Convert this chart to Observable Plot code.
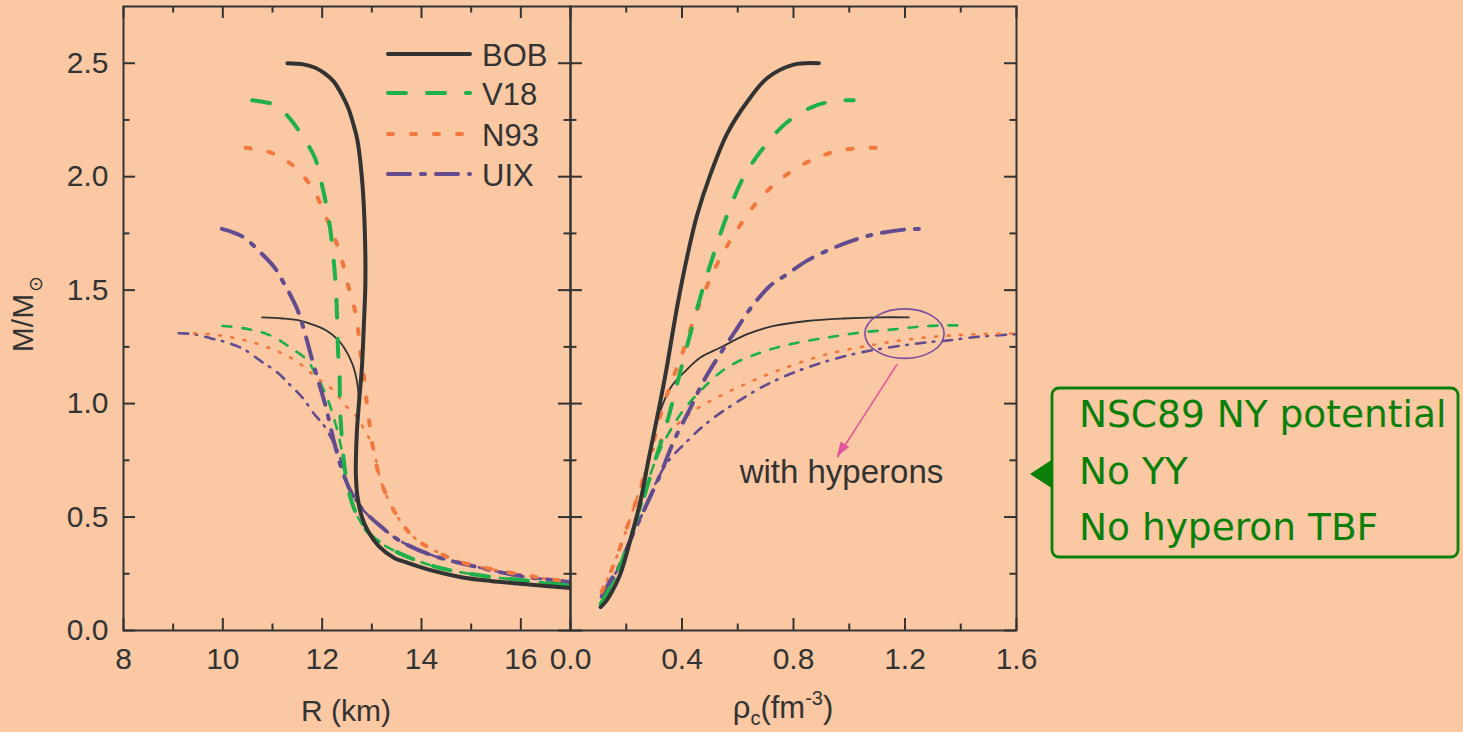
<!DOCTYPE html>
<html><head><meta charset="utf-8">
<script src="https://cdn.jsdelivr.net/npm/d3@7"></script>
<script src="https://cdn.jsdelivr.net/npm/@observablehq/plot@0.6"></script>
<style>
html,body{margin:0;padding:0;background:#FAC8A2;}
#wrap{position:relative;width:1463px;height:732px;overflow:hidden;}
#left{position:absolute;top:0;left:0;width:575px;height:732px;}
#right{position:absolute;top:0;left:565px;width:898px;height:732px;}
</style></head><body>
<div id="wrap"><div id="left"></div><div id="right"></div></div>
<script>
// ---------- DATA ----------
const seriesNames = ["BOB", "V18", "N93", "UIX"];

// Left panel: [R (km), M/Msun], nucleonic (thick)
const bobMR = [[11.30,2.50],[11.62,2.495],[11.86,2.48],[12.05,2.455],[12.23,2.42],[12.40,2.36],[12.53,2.30],[12.63,2.23],[12.71,2.16],[12.81,1.97],[12.86,1.75],[12.87,1.53],[12.84,1.35],[12.80,1.16],[12.74,1.0],[12.70,0.88],[12.68,0.76],[12.68,0.68],[12.71,0.59],[12.80,0.50],[12.92,0.44],[13.15,0.37],[13.45,0.32],[13.7,0.30],[14.2,0.265],[14.8,0.235],[15.4,0.218],[15.94,0.207],[16.5,0.196],[17.0,0.187]];
const v18MR = [[10.59,2.337],[10.8,2.33],[11.0,2.32],[11.2,2.29],[11.39,2.245],[11.63,2.17],[11.86,2.08],[12.01,1.95],[12.12,1.83],[12.19,1.72],[12.27,1.53],[12.30,1.38],[12.32,1.23],[12.35,1.13],[12.36,0.98],[12.40,0.84],[12.47,0.69],[12.59,0.57],[12.77,0.48],[13.03,0.41],[13.56,0.34],[14.3,0.28],[15.2,0.242],[16.1,0.22],[17.0,0.198]];
const n93MR = [[10.46,2.127],[10.7,2.12],[10.98,2.105],[11.2,2.08],[11.46,2.04],[11.83,1.94],[12.06,1.83],[12.25,1.73],[12.39,1.64],[12.51,1.53],[12.64,1.43],[12.72,1.33],[12.77,1.225],[12.84,1.12],[12.89,1.02],[12.95,0.917],[13.02,0.81],[13.18,0.66],[13.48,0.515],[13.85,0.41],[14.37,0.34],[14.82,0.30],[15.56,0.264],[16.32,0.235],[17.0,0.213]];
const uixMR = [[9.98,1.77],[10.2,1.755],[10.44,1.73],[10.74,1.67],[11.04,1.60],[11.23,1.53],[11.49,1.42],[11.64,1.32],[11.79,1.20],[11.94,1.087],[12.08,0.98],[12.23,0.84],[12.38,0.72],[12.56,0.62],[12.79,0.54],[13.12,0.47],[13.56,0.396],[14.23,0.33],[15.12,0.28],[15.94,0.242],[17.0,0.213]];

// Left panel: with hyperons (thin)
const bobMRhyp = [[10.79,1.38],[11.2,1.375],[11.57,1.365],[11.85,1.345],[12.10,1.32],[12.30,1.285],[12.44,1.247],[12.61,1.174],[12.71,1.086],[12.74,1.0],[12.70,0.88],[12.68,0.76],[12.68,0.68],[12.71,0.59],[12.80,0.50],[12.92,0.44],[13.15,0.37],[13.45,0.32],[13.7,0.30],[14.2,0.265],[14.8,0.235],[15.4,0.218],[15.94,0.207],[16.5,0.196],[17.0,0.187]];
const v18MRhyp = [[9.99,1.342],[10.52,1.328],[10.96,1.30],[11.36,1.247],[11.70,1.19],[11.90,1.115],[12.04,1.056],[12.17,0.983],[12.27,0.91],[12.37,0.82],[12.44,0.72],[12.52,0.63],[12.62,0.55],[12.77,0.48],[13.03,0.41],[13.56,0.34],[14.3,0.28],[15.2,0.242],[16.1,0.22],[17.0,0.198]];
const n93MRhyp = [[9.42,1.31],[9.72,1.306],[9.95,1.30],[10.22,1.29],[10.49,1.276],[10.72,1.262],[10.99,1.24],[11.23,1.218],[11.50,1.184],[11.73,1.144],[11.97,1.10],[12.24,1.056],[12.44,0.998],[12.68,0.946],[12.84,0.888],[13.02,0.81],[13.18,0.66],[13.48,0.515],[13.85,0.41],[14.37,0.34],[14.82,0.30],[15.56,0.264],[16.32,0.235],[17.0,0.213]];
const uixMRhyp = [[9.11,1.31],[9.42,1.306],[9.75,1.288],[10.09,1.269],[10.42,1.24],[10.76,1.188],[11.10,1.137],[11.37,1.078],[11.60,1.027],[11.84,0.954],[12.04,0.902],[12.21,0.836],[12.34,0.778],[12.42,0.71],[12.56,0.62],[12.79,0.54],[13.12,0.47],[13.56,0.396],[14.23,0.33],[15.12,0.28],[15.94,0.242],[17.0,0.213]];

// Right panel: [rho_c (fm^-3), M/Msun], nucleonic (thick)
const bobRho = [[0.108,0.103],[0.125,0.125],[0.1435,0.16],[0.179,0.25],[0.215,0.40],[0.251,0.57],[0.281,0.76],[0.311,0.94],[0.341,1.13],[0.362,1.28],[0.383,1.43],[0.419,1.65],[0.454,1.83],[0.502,2.01],[0.562,2.19],[0.634,2.33],[0.706,2.435],[0.801,2.494],[0.891,2.50]];
const v18Rho = [[0.108,0.117],[0.155,0.22],[0.203,0.367],[0.251,0.54],[0.299,0.73],[0.347,0.92],[0.383,1.09],[0.424,1.28],[0.466,1.47],[0.514,1.66],[0.562,1.83],[0.622,2.0],[0.694,2.13],[0.777,2.24],[0.873,2.31],[0.957,2.335],[1.016,2.337]];
const n93Rho = [[0.112,0.17],[0.13,0.22],[0.155,0.29],[0.203,0.455],[0.251,0.63],[0.299,0.836],[0.323,0.95],[0.359,1.085],[0.395,1.20],[0.454,1.41],[0.520,1.60],[0.574,1.72],[0.622,1.81],[0.682,1.907],[0.765,2.0],[0.849,2.064],[0.933,2.105],[1.016,2.124],[1.112,2.127]];
const uixRho = [[0.112,0.15],[0.1435,0.22],[0.167,0.264],[0.215,0.40],[0.275,0.56],[0.323,0.69],[0.371,0.836],[0.430,0.98],[0.478,1.10],[0.532,1.21],[0.586,1.31],[0.646,1.42],[0.717,1.52],[0.777,1.57],[0.849,1.63],[0.945,1.687],[1.04,1.73],[1.124,1.754],[1.208,1.768],[1.256,1.77]];

// Right panel: with hyperons (thin)
const bobRhoHyp = [[0.108,0.103],[0.125,0.125],[0.1435,0.16],[0.179,0.25],[0.215,0.40],[0.251,0.57],[0.281,0.76],[0.300,0.87],[0.320,0.96],[0.359,1.07],[0.413,1.144],[0.466,1.203],[0.538,1.247],[0.634,1.306],[0.729,1.342],[0.849,1.364],[0.98,1.375],[1.10,1.38],[1.214,1.38]];
const v18RhoHyp = [[0.108,0.117],[0.155,0.22],[0.203,0.367],[0.251,0.54],[0.290,0.70],[0.323,0.80],[0.395,0.954],[0.466,1.056],[0.562,1.159],[0.682,1.225],[0.801,1.265],[0.921,1.291],[1.04,1.313],[1.16,1.327],[1.28,1.342],[1.423,1.345]];
const n93RhoHyp = [[0.112,0.17],[0.13,0.22],[0.155,0.29],[0.203,0.455],[0.251,0.63],[0.299,0.80],[0.359,0.88],[0.442,0.968],[0.526,1.027],[0.634,1.09],[0.753,1.15],[0.921,1.218],[1.10,1.262],[1.22,1.284],[1.339,1.298],[1.459,1.306],[1.603,1.309]];
const uixRhoHyp = [[0.112,0.15],[0.1435,0.22],[0.167,0.264],[0.215,0.40],[0.275,0.56],[0.310,0.66],[0.347,0.74],[0.419,0.835],[0.490,0.915],[0.586,0.998],[0.706,1.085],[0.849,1.159],[1.04,1.225],[1.28,1.27],[1.339,1.276],[1.459,1.294],[1.603,1.306]];

// Tick values
const xMajorL = [8, 10, 12, 14, 16];
const xMinorL = [9, 11, 13, 15];
const xMajorR = [0, 0.4, 0.8, 1.2, 1.6];
const xMinorR = [0.2, 0.6, 1.0, 1.4];
const yMajor = [0, 0.5, 1.0, 1.5, 2.0, 2.5];
const yMinor = [0.25, 0.75, 1.25, 1.75, 2.25];

// Annotations
const annoText = [{rho: 0.972, m: 0.696, label: "with hyperons"}];
const annoArrow = [{rho1: 1.172, m1: 1.174, rho2: 0.957, m2: 0.763}];
const annoEllipse = {rho: 1.20, m: 1.306, rRho: 0.142, rM: 0.109};
const boxLines = ["NSC89 NY potential", "No YY", "No hyperon TBF"];

// ---------- STYLES ----------
const seriesColors = ["#333333", "#1DB04B", "#F0783F", "#634B8F"];
const thickDash = [undefined, "18 21", "5 18", "22 11 4 11"];
const thinDash = [undefined, "9 11", "2 10.5", "9.5 7.5 1.5 8.5"];
const ink = "#333333";
const pink = "#E0559B";
const FONT = "'Liberation Sans', Arial, sans-serif";

const thickMR = [bobMR, v18MR, n93MR, uixMR];
const thinMR = [bobMRhyp, v18MRhyp, n93MRhyp, uixMRhyp];
const thickRho = [bobRho, v18Rho, n93Rho, uixRho];
const thinRho = [bobRhoHyp, v18RhoHyp, n93RhoHyp, uixRhoHyp];

function lineMark(data, i, thick) {
  return Plot.line(data, {
    x: d => d[0], y: d => d[1],
    stroke: seriesColors[i],
    strokeWidth: thick ? 4 : (i === 0 ? 1.8 : 2.6),
    strokeDasharray: thick ? thickDash[i] : thinDash[i],
    strokeLinecap: "round", strokeLinejoin: "round",
    curve: "catmull-rom", clip: true
  });
}
function curveMarks(thin, thick) {
  const m = [];
  for (let i = 3; i >= 0; i--) m.push(lineMark(thin[i], i, false));
  for (let i = 3; i >= 0; i--) m.push(lineMark(thick[i], i, true));
  return m;
}
const MT = 6, MB = 102, H = 732, FH = H - MT - MB;
function tickMarks(xMaj, xMin, fw) {
  const s = {stroke: ink, strokeWidth: 2};
  return [
    Plot.ruleX(xMaj, {...s, insetTop: FH - 12}),
    Plot.ruleX(xMaj, {...s, insetBottom: FH - 12}),
    Plot.ruleX(xMin, {...s, insetTop: FH - 6.5}),
    Plot.ruleX(xMin, {...s, insetBottom: FH - 6.5}),
    Plot.ruleY(yMajor, {...s, insetRight: fw - 12}),
    Plot.ruleY(yMajor, {...s, insetLeft: fw - 12}),
    Plot.ruleY(yMinor, {...s, insetRight: fw - 6.5}),
    Plot.ruleY(yMinor, {...s, insetLeft: fw - 6.5})
  ];
}
const plotStyle = {background: "transparent", fontFamily: FONT, fontSize: "30px", color: ink, overflow: "visible", maxWidth: "none"};

// ---------- LEFT PANEL ----------
const LW = 575, LML = 123, LMR = 5;
const left = Plot.plot({
  width: LW, height: H, marginLeft: LML, marginRight: LMR, marginTop: MT, marginBottom: MB,
  style: plotStyle,
  x: {domain: [8, 17]},
  y: {domain: [0, 2.75]},
  marks: [
    ...curveMarks(thinMR, thickMR),
    ...tickMarks(xMajorL, xMinorL, LW - LML - LMR),
    Plot.frame({stroke: ink, strokeWidth: 2}),
    Plot.axisX({ticks: xMajorL, tickSize: 0, tickPadding: 17, tickFormat: d => String(d), label: null, fontSize: 30, fill: ink}),
    Plot.axisY({ticks: yMajor, tickSize: 0, tickPadding: 15, tickFormat: d3.format(".1f"), label: null, fontSize: 30, fill: ink})
  ]
});
document.getElementById("left").appendChild(left);

// ---------- RIGHT PANEL ----------
const RW = 898, RML = 5, RMR = 447;
const right = Plot.plot({
  width: RW, height: H, marginLeft: RML, marginRight: RMR, marginTop: MT, marginBottom: MB,
  style: plotStyle,
  x: {domain: [0, 1.6]},
  y: {domain: [0, 2.75], axis: null},
  marks: [
    ...curveMarks(thinRho, thickRho),
    ...tickMarks(xMajorR, xMinorR, RW - RML - RMR),
    Plot.frame({stroke: ink, strokeWidth: 2}),
    Plot.axisX({ticks: xMajorR, tickSize: 0, tickPadding: 17, tickFormat: d3.format(".1f"), label: null, fontSize: 30, fill: ink}),
    Plot.link(annoArrow, {x1: "rho1", y1: "m1", x2: "rho2", y2: "m2", stroke: pink, strokeWidth: 1.6}),
    Plot.text(annoText, {x: "rho", y: "m", text: "label", fontSize: 33, fill: ink, lineAnchor: "middle"})
  ]
});
document.getElementById("right").appendChild(right);

// ---------- EXTRA SVG DECORATION ----------
const ls = d3.select(left);
// Legend
const legY = [54, 93, 134, 174];
seriesNames.forEach((n, i) => {
  ls.append("line").attr("x1", 388).attr("x2", 470).attr("y1", legY[i]).attr("y2", legY[i])
    .attr("stroke", seriesColors[i]).attr("stroke-width", 4).attr("stroke-linecap", "round")
    .attr("stroke-dasharray", thickDash[i] || null);
  ls.append("text").attr("x", 482).attr("y", legY[i] + 11.5).attr("text-anchor", "start")
    .attr("font-family", FONT).attr("font-size", 31).attr("fill", ink).text(n);
});
// Axis titles
ls.append("text").attr("x", 346).attr("y", 721).attr("text-anchor", "middle")
  .attr("font-family", FONT).attr("font-size", 30).attr("fill", ink).text("R (km)");
const yt = ls.append("text").attr("transform", "translate(33,314) rotate(-90)").attr("text-anchor", "middle")
  .attr("font-family", FONT).attr("font-size", 30).attr("fill", ink);
yt.append("tspan").text("M/M");
yt.append("tspan").attr("font-size", 19).attr("dy", 9).attr("dx", 2).text("\u2299");

const rs = d3.select(right);
const xs = right.scale("x"), ys = right.scale("y");
const xt = rs.append("text").attr("x", 783 - 565).attr("y", 718).attr("text-anchor", "middle")
  .attr("font-family", FONT).attr("font-size", 31).attr("fill", ink);
xt.append("tspan").text("\u03C1");
xt.append("tspan").attr("font-size", 20).attr("dy", 7).text("c");
xt.append("tspan").attr("dy", -7).text("(fm");
xt.append("tspan").attr("font-size", 20).attr("dy", -13).text("-3");
xt.append("tspan").attr("dy", 13).text(")");

// Filled arrowhead at the end of the link
{
  const a = annoArrow[0];
  const x1 = xs.apply(a.rho1), y1 = ys.apply(a.m1), x2 = xs.apply(a.rho2), y2 = ys.apply(a.m2);
  const ang = Math.atan2(y2 - y1, x2 - x1), L = 15, W = 5;
  const bx0 = x2 - L * Math.cos(ang), by0 = y2 - L * Math.sin(ang);
  const px = -Math.sin(ang) * W, py = Math.cos(ang) * W;
  rs.append("path").attr("d", `M${x2},${y2}L${bx0 + px},${by0 + py}L${bx0 - px},${by0 - py}Z`).attr("fill", pink);
}

// Ellipse around hyperon maxima
const ecx = xs.apply(annoEllipse.rho), ecy = ys.apply(annoEllipse.m);
rs.append("ellipse").attr("cx", ecx).attr("cy", ecy)
  .attr("rx", xs.apply(annoEllipse.rho + annoEllipse.rRho) - ecx)
  .attr("ry", ecy - ys.apply(annoEllipse.m + annoEllipse.rM))
  .attr("fill", "none").attr("stroke", "#7A4F9E").attr("stroke-width", 1.6);

// Green callout box
const bx = 1052 - 565, by = 388, bw = 406, bh = 169;
const green = "#0A800A";
rs.append("path").attr("d", `M${1030 - 565},474L${bx + 1},459L${bx + 1},489Z`).attr("fill", green);
rs.append("rect").attr("x", bx).attr("y", by).attr("width", bw).attr("height", bh).attr("rx", 7)
  .attr("fill", "none").attr("stroke", green).attr("stroke-width", 2.8);
const baselines = [427, 484, 540];
boxLines.forEach((t, i) => {
  rs.append("text").attr("x", 1079 - 565).attr("y", baselines[i]).attr("text-anchor", "start")
    .attr("font-family", "'DejaVu Sans', sans-serif").attr("font-size", 37.5).attr("fill", green).text(t);
});
</script>
</body></html>
